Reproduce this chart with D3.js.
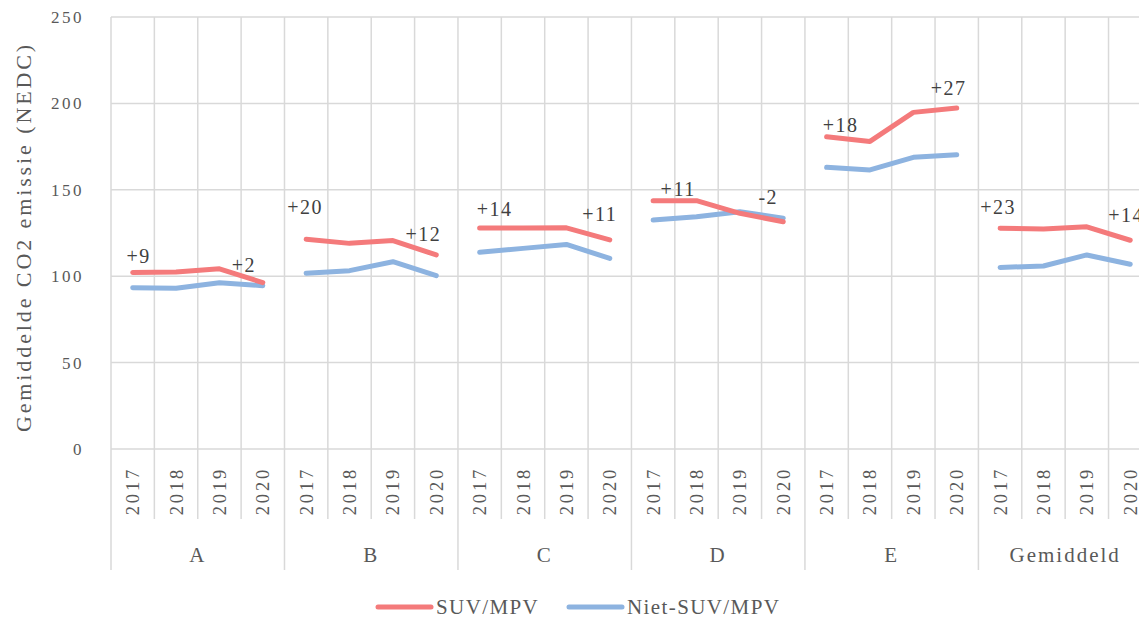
<!DOCTYPE html>
<html>
<head>
<meta charset="utf-8">
<script src="https://cdn.jsdelivr.net/npm/d3@7"></script>
<style>
  html, body { margin: 0; padding: 0; background: #fff; }
  svg { display: block; font-family: "Liberation Serif", "DejaVu Serif", serif; }
</style>
</head>
<body>
<svg id="chart" width="1139" height="619"></svg>
<script>
// categories
var groups = ["A", "B", "C", "D", "E", "Gemiddeld"];
var years = ["2017", "2018", "2019", "2020"];

// series values, per group 2017..2020
var suv = [
	[102.1, 102.4, 104.3, 96.3],
	[121.4, 119.0, 120.6, 112.3],
	[127.9, 127.9, 128.0, 121.0],
	[143.7, 143.7, 136.4, 131.5],
	[180.7, 178.0, 194.8, 197.4],
	[127.7, 127.3, 128.6, 120.8]
];
var nietSuv = [
	[93.3, 93.0, 96.2, 94.5],
	[101.7, 103.2, 108.4, 100.3],
	[113.8, 116.1, 118.4, 110.3],
	[132.5, 134.4, 137.3, 133.6],
	[163.0, 161.5, 168.8, 170.3],
	[105.1, 105.9, 112.3, 106.9]
];

// difference labels shown at 2017 and 2020
var labels2017 = ["+9", "+20", "+14", "+11", "+18", "+23"];
var labels2020 = ["+2", "+12", "+11", "-2", "+27", "+14"];
// hand placed label offsets (dx, dy) like in the original
var nudge2017 = [[6, -17], [-1, -32], [15, -19], [25, -12], [14, -12], [-2, -21]];
var nudge2020 = [[-19, -18], [-13, -21], [-10, -26], [-15, -25], [-8, -20], [-4, -25]];

var yTicks = [0, 50, 100, 150, 200, 250];

var svg = d3.select("#chart");
var red = "#F47A7B", blue = "#8DB3E0", grid = "#D9D9D9", textCol = "#595959";

// one band per year slot
var slots = [];
groups.forEach(g => years.forEach(y => slots.push(g + "|" + y)));

var x = d3.scaleBand().domain(slots).range([111, 1151.9]).padding(0);
var y = d3.scaleLinear().domain([0, 250]).range([449, 17]);
var cx = (g, yr) => x(g + "|" + yr) + x.bandwidth() / 2;

// horizontal gridlines
svg.append("g")
	.selectAll("line")
	.data(yTicks)
	.enter().append("line")
		.attr("x1", 111).attr("x2", 1152)
		.attr("y1", d => y(d)).attr("y2", d => y(d))
		.attr("stroke", grid).attr("stroke-width", 1.5);

// vertical gridlines + tick separators below axis
var bounds = slots.map((s, i) => i);
bounds.push(slots.length);
svg.append("g")
	.selectAll("line")
	.data(bounds)
	.enter().append("line")
		.attr("x1", d => 111 + d * x.bandwidth())
		.attr("x2", d => 111 + d * x.bandwidth())
		.attr("y1", y(250))
		.attr("y2", d => d % 4 === 0 ? 570 : 519)
		.attr("stroke", grid).attr("stroke-width", 1.5);

// y tick labels
svg.append("g")
	.selectAll("text")
	.data(yTicks)
	.enter().append("text")
		.attr("x", 84).attr("y", d => y(d))
		.attr("dy", "0.35em")
		.attr("text-anchor", "end")
		.attr("fill", textCol)
		.style("font-size", "17px")
		.style("letter-spacing", "2.5px")
		.text(d => d);

// y title
svg.append("text")
	.attr("transform", "translate(31," + 237 + ") rotate(-90)")
	.attr("text-anchor", "middle")
	.attr("fill", textCol)
	.style("font-size", "22px")
	.style("letter-spacing", "2.9px")
	.text("Gemiddelde CO2 emissie  (NEDC)");

// year labels, rotated
svg.append("g")
	.selectAll("text")
	.data(slots)
	.enter().append("text")
		.attr("transform", d => "translate(" + (x(d) + x.bandwidth() / 2 + 6.5) + ",467) rotate(-90)")
		.attr("text-anchor", "end")
		.attr("fill", textCol)
		.style("font-size", "18.5px")
		.style("letter-spacing", "2.8px")
		.text(d => d.split("|")[1]);

// group labels
svg.append("g")
	.selectAll("text")
	.data(groups)
	.enter().append("text")
		.attr("x", d => x(d + "|2017") + 2 * x.bandwidth())
		.attr("y", 562)
		.attr("text-anchor", "middle")
		.attr("fill", textCol)
		.style("font-size", "21px")
		.style("letter-spacing", "2px")
		.text(d => d);

// lines, one segment per group
var line = d3.line()
	.x(d => d.x)
	.y(d => y(d.v));

function drawSeries(values, color) {
	svg.append("g")
		.selectAll("path")
		.data(values.map((vals, gi) => vals.map((v, yi) => ({ x: cx(groups[gi], years[yi]), v: v }))))
		.enter().append("path")
			.attr("d", line)
			.attr("fill", "none")
			.attr("stroke", color)
			.attr("stroke-width", 5)
			.attr("stroke-linecap", "round")
			.attr("stroke-linejoin", "round");
}
drawSeries(nietSuv, blue);
drawSeries(suv, red);

// difference labels
function drawLabels(texts, nudges, yi) {
	svg.append("g")
		.selectAll("text")
		.data(texts)
		.enter().append("text")
			.attr("x", (d, gi) => cx(groups[gi], years[yi]) + nudges[gi][0])
			.attr("y", (d, gi) => y(suv[gi][yi]) + nudges[gi][1])
			.attr("dy", "0.35em")
			.attr("text-anchor", "middle")
			.attr("fill", "#404040")
			.style("font-size", "20px")
			.style("letter-spacing", "1.5px")
			.text(d => d);
}
drawLabels(labels2017, nudge2017, 0);
drawLabels(labels2020, nudge2020, 3);

// legend
var legend = [
	{ name: "SUV/MPV", color: red, x: 378 },
	{ name: "Niet-SUV/MPV", color: blue, x: 569 }
];
var lg = svg.append("g")
	.selectAll("g")
	.data(legend)
	.enter().append("g")
		.attr("transform", d => "translate(" + d.x + ",607)");
lg.append("line")
	.attr("x1", 0).attr("x2", 53)
	.attr("stroke", d => d.color)
	.attr("stroke-width", 5)
	.attr("stroke-linecap", "round");
lg.append("text")
	.attr("x", 58).attr("dy", "0.35em")
	.attr("fill", textCol)
	.style("font-size", "21px")
	.style("letter-spacing", "1.4px")
	.text(d => d.name);
</script>
</body>
</html>
